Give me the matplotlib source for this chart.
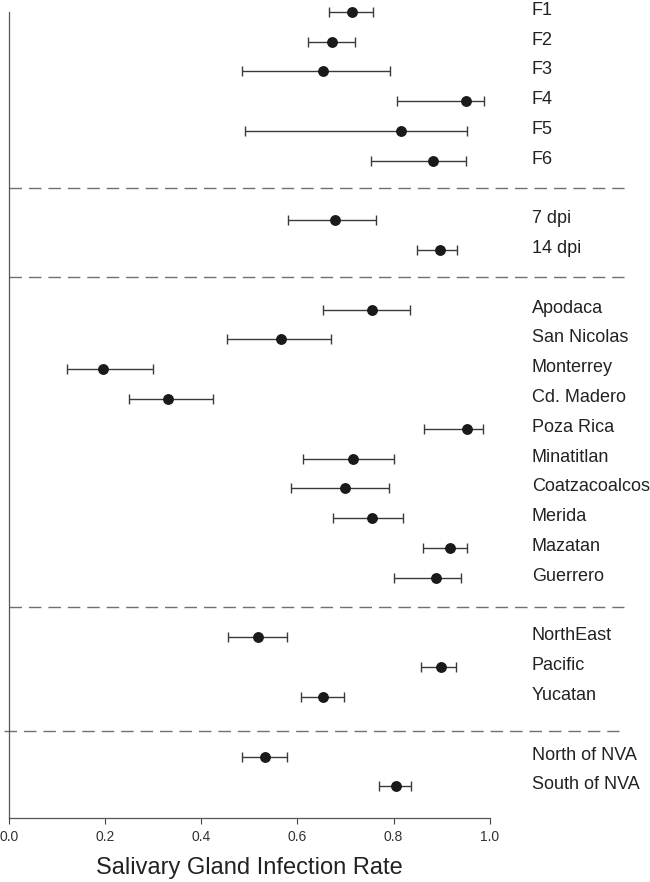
import matplotlib
matplotlib.use("Agg")
import matplotlib.pyplot as plt
import matplotlib.transforms as mtransforms

plt.rcParams['font.family'] = ['Liberation Sans', 'DejaVu Sans']

# groups of sites, top to bottom
group_sizes = [6, 2, 10, 3, 2]
labels = ["F1", "F2", "F3", "F4", "F5", "F6",
          "7 dpi", "14 dpi",
          "Apodaca", "San Nicolas", "Monterrey", "Cd. Madero", "Poza Rica",
          "Minatitlan", "Coatzacoalcos", "Merida", "Mazatan", "Guerrero",
          "NorthEast", "Pacific", "Yucatan",
          "North of NVA", "South of NVA"]
rate = [0.714, 0.672, 0.654, 0.951, 0.815, 0.883,
        0.679, 0.897,
        0.755, 0.565, 0.195, 0.330, 0.954, 0.716, 0.698, 0.755, 0.918, 0.888,
        0.517, 0.899, 0.654,
        0.532, 0.805]
lower = [0.666, 0.623, 0.485, 0.808, 0.490, 0.753,
         0.580, 0.848,
         0.654, 0.453, 0.120, 0.249, 0.863, 0.612, 0.586, 0.675, 0.861, 0.801,
         0.455, 0.857, 0.608,
         0.485, 0.769]
upper = [0.757, 0.719, 0.792, 0.988, 0.953, 0.950,
         0.764, 0.932,
         0.835, 0.670, 0.300, 0.424, 0.986, 0.800, 0.791, 0.820, 0.954, 0.941,
         0.579, 0.931, 0.697,
         0.579, 0.837]

# row positions: one blank row between groups, dashed line in it
rows = []
seps = []
sep_off = [0.92, 0.9, 0.99, 1.14]
r = 0
for g, n in enumerate(group_sizes):
    for i in range(n):
        rows.append(r)
        r += 1
    if g < len(group_sizes) - 1:
        seps.append(r - 1 + sep_off[g])
    r += 1

fig = plt.figure(figsize=(6.5, 8.82), dpi=100)
ax = fig.add_axes([0.0142, 0.0726, 0.739, 0.9141])

xerr = [[rate[i] - lower[i] for i in range(len(rate))],
        [upper[i] - rate[i] for i in range(len(rate))]]
ax.errorbar(rate, rows, xerr=xerr, fmt='o', color='#1a1a1a', ecolor='#3a3a3a',
            markersize=6.8, elinewidth=1.0, capsize=3.5, capthick=1.0,
            clip_on=False, zorder=3)

trans = mtransforms.blended_transform_factory(ax.transAxes, ax.transData)
sep_x = [(0.0, 1.28), (0.0, 1.28), (0.0, 1.28), (-0.011, 1.27)]
for s, (x0, x1) in zip(seps, sep_x):
    ax.plot([x0, x1], [s, s], transform=trans, color='#707070', lw=1.0,
            dashes=(9, 5), clip_on=False)

for y, lab in zip(rows, labels):
    ax.text(1.088, y - 0.05, lab, transform=trans, fontsize=13, va='center',
            ha='left', color='#222222')

ax.set_xlim(0, 1.0)
ax.set_ylim(27.06, 0)
ax.set_xticks([0.0, 0.2, 0.4, 0.6, 0.8, 1.0])
ax.set_xticklabels(["0.0", "0.2", "0.4", "0.6", "0.8", "1.0"])
ax.set_yticks([])
ax.tick_params(axis='x', direction='out', length=4, width=0.8,
               labelsize=10, color='#444444', labelcolor='#333333', pad=5)
for side in ['top', 'right']:
    ax.spines[side].set_visible(False)
for side in ['left', 'bottom']:
    ax.spines[side].set_color('#555555')
    ax.spines[side].set_linewidth(0.9)

ax.set_xlabel("Salivary Gland Infection Rate", fontsize=17, color='#222222',
              labelpad=9)

fig.savefig("out.png", dpi=100)
